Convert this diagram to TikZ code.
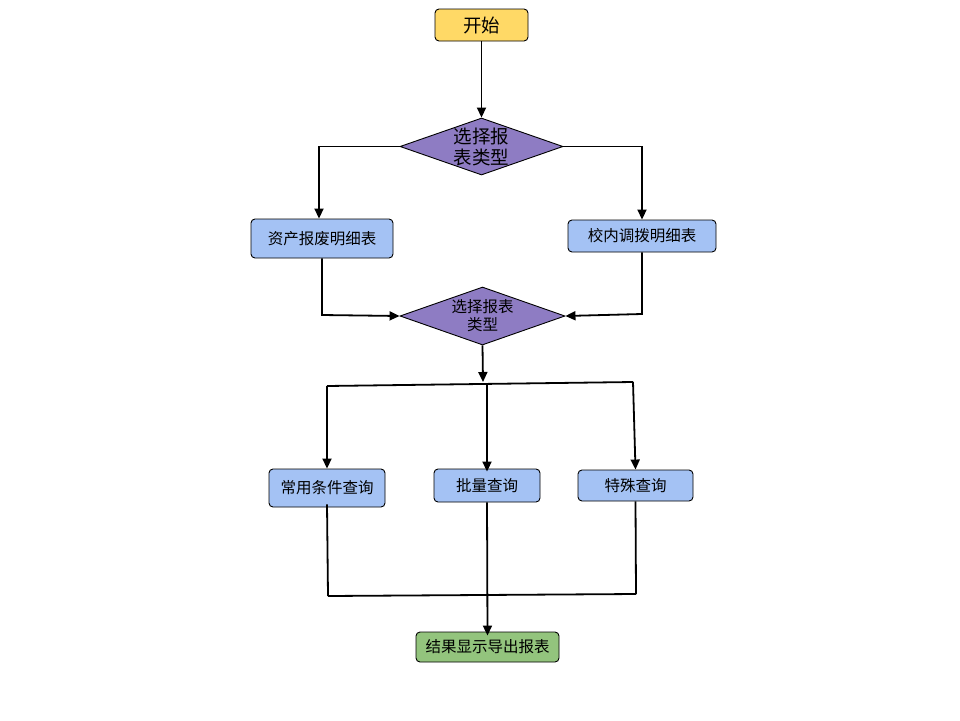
\documentclass[tikz,border=0pt]{standalone}
\usepackage{fontspec}
\newfontfamily\cjk{Noto Sans CJK SC}
\usetikzlibrary{shapes.geometric,arrows.meta}
\definecolor{startc}{HTML}{FFD966}
\definecolor{decc}{HTML}{8E7CC3}
\definecolor{boxc}{HTML}{A4C2F4}
\definecolor{endc}{HTML}{93C47D}
\tikzset{
  base/.style={draw=black, line width=0.9pt, inner sep=0pt, font=\cjk\fontsize{15.5}{17}\selectfont},
  rbox/.style={base, rectangle, rounded corners=4pt},
  dec/.style={base, diamond, fill=decc, aspect=2.86, align=center},
  conn/.style={line width=1.8pt, draw=black},
  arr/.style={conn, -{Triangle[length=10pt,width=9pt]}},
}
\begin{document}
\begin{tikzpicture}[x=1pt,y=-1pt]
\useasboundingbox (0,0) rectangle (960,720);
\fill[white] (0,0) rectangle (960,720);
% nodes
\node[rbox, fill=startc, minimum width=93pt, minimum height=32pt, font=\cjk\fontsize{18.5}{20}\selectfont] (start) at (481.5,25) {开始};
\node[dec, minimum width=163pt, minimum height=57pt] (d1) at (481.5,146.5) {};
\node[font=\cjk\fontsize{18.5}{21}\selectfont, align=center] at (d1.center) {选择报\\表类型};
\node[rbox, fill=boxc, minimum width=142pt, minimum height=39pt] (b1) at (322,238.5) {资产报废明细表};
\node[rbox, fill=boxc, minimum width=148pt, minimum height=32pt] (b2) at (642,236) {校内调拨明细表};
\node[dec, minimum width=165pt, minimum height=58pt] (d2) at (482.5,316) {};
\node[font=\cjk\fontsize{15.5}{18}\selectfont, align=center] at (d2.center) {选择报表\\类型};
\node[rbox, fill=boxc, minimum width=116pt, minimum height=38pt] (q1) at (327,488) {常用条件查询};
\node[rbox, fill=boxc, minimum width=106pt, minimum height=33pt] (q2) at (487,485.5) {批量查询};
\node[rbox, fill=boxc, minimum width=115pt, minimum height=31pt] (q3) at (635.5,485.5) {特殊查询};
\node[rbox, fill=endc, minimum width=143pt, minimum height=30pt] (res) at (487.5,647) {结果显示导出报表};
% junction coordinates
\coordinate (j1l) at (319,146.5);
\coordinate (j1r) at (642,146.5);
\coordinate (j2l) at (322,315);
\coordinate (j2r) at (642,314);
\coordinate (sd) at (483,382);
\coordinate (hl) at (327,386);
\coordinate (hm) at (487,384);
\coordinate (hr) at (633,382);
\coordinate (bl) at (328,596);
\coordinate (br) at (636,594);
% connectors
\draw[arr] (start.south) -- (d1.north);
\draw[arr] (d1.west) -- (j1l) -- (b1.north -| j1l);
\draw[arr] (d1.east) -- (j1r) -- (b2.north);
\draw[arr] (b1.south) -- (j2l) -- (d2.west);
\draw[arr] (b2.south) -- (j2r) -- (d2.east);
\draw[arr] (d2.south) -- (sd);
\draw[conn] (hl) -- (hr);
\draw[arr] (hl) -- (q1.north);
\draw[arr] (hm) -- ([yshift=-3pt]q2.north);
\draw[arr] (hr) -- (q3.north);
\draw[conn] ([yshift=3pt]q1.south) -- (bl);
\draw[conn] (q3.south) -- (br);
\draw[conn] (bl) -- (br);
\draw[arr] (q2.south) -- ([yshift=-4pt]res.north);
\end{tikzpicture}
\end{document}
